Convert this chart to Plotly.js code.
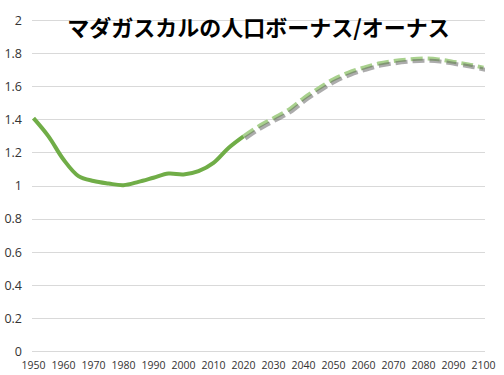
<!DOCTYPE html>
<html>
<head>
<meta charset="utf-8">
<script src="https://cdn.plot.ly/plotly-3.0.1.min.js"></script>
<style>html,body{margin:0;padding:0;background:#fff;}#chart{width:504px;height:375px;}</style>
</head>
<body>
<div id="chart"></div>
<script>
// Estimated values
const chartTitle = "マダガスカルの人口ボーナス/オーナス";
const pastYears = [1950, 1955, 1960, 1965, 1970, 1975, 1980, 1985, 1990, 1995, 2000, 2005, 2010, 2015, 2020];
const pastValues = [1.41, 1.30, 1.16, 1.06, 1.03, 1.015, 1.005, 1.025, 1.05, 1.075, 1.07, 1.09, 1.14, 1.23, 1.30];
const futureYears = [2020, 2025, 2030, 2035, 2040, 2045, 2050, 2055, 2060, 2065, 2070, 2075, 2080, 2085, 2090, 2095, 2100];
const futureValues = [1.30, 1.36, 1.41, 1.46, 1.53, 1.59, 1.645, 1.685, 1.715, 1.74, 1.755, 1.765, 1.77, 1.765, 1.75, 1.735, 1.715];
const xTickVals = [1950, 1960, 1970, 1980, 1990, 2000, 2010, 2020, 2030, 2040, 2050, 2060, 2070, 2080, 2090, 2100];
const yTickVals = [0, 0.2, 0.4, 0.6, 0.8, 1, 1.2, 1.4, 1.6, 1.8, 2];
const yTickText = ["0", "0.2", "0.4", "0.6", "0.8", "1", "1.2", "1.4", "1.6", "1.8", "2"];

const xr = [1949.5, 2100.5];
const yr = [-0.015, 2.015];
const shadowDx = 0.6;   // years (~2px)
const shadowDy = 0.013; // units (~2px)

const traces = [
  {x: futureYears, y: futureValues, type: 'scatter', mode: 'lines', xaxis: 'x2', yaxis: 'y2',
   line: {color: 'rgba(90,90,90,0.5)', width: 4, dash: '12px,5px', shape: 'spline'}, hoverinfo: 'skip'},
  {x: futureYears, y: futureValues, type: 'scatter', mode: 'lines',
   line: {color: '#A9D18E', width: 4, dash: '12px,5px', shape: 'spline'}},
  {x: pastYears, y: pastValues, type: 'scatter', mode: 'lines',
   line: {color: '#70AD47', width: 4, shape: 'spline'}}
];

const layout = {
  width: 504, height: 375,
  margin: {l: 32, r: 19, t: 18, b: 21},
  paper_bgcolor: '#fff', plot_bgcolor: '#fff',
  showlegend: false,
  title: {text: '<b>' + chartTitle + '</b>', x: 0.5, xref: 'paper', xanchor: 'center',
          y: 0.925, yref: 'container', yanchor: 'middle',
          font: {family: 'Noto Sans CJK JP', size: 22, color: '#000'}},
  xaxis: {range: xr, tickvals: xTickVals, ticktext: xTickVals.map(String), showgrid: false, zeroline: false,
          showline: false, ticks: '', tickfont: {family: 'Open Sans, DejaVu Sans', size: 10.5, color: '#333'},
          ticklabelstandoff: 3, fixedrange: true},
  yaxis: {range: yr, tickvals: yTickVals, ticktext: yTickText, showgrid: true, gridcolor: '#D9D9D9', gridwidth: 1,
          zeroline: false, showline: false, ticks: '', tickfont: {family: 'Open Sans, DejaVu Sans', size: 12.5, color: '#333'},
          ticklabelstandoff: 9, fixedrange: true},
  xaxis2: {range: [xr[0] - shadowDx, xr[1] - shadowDx], overlaying: 'x', visible: false, showgrid: false, zeroline: false},
  yaxis2: {range: [yr[0] + shadowDy, yr[1] + shadowDy], overlaying: 'y', visible: false, showgrid: false, zeroline: false}
};

Plotly.newPlot('chart', traces, layout, {displayModeBar: false, staticPlot: true});
</script>
</body>
</html>
